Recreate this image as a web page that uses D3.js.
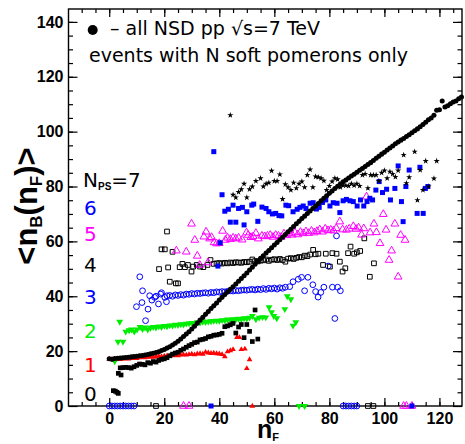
<!DOCTYPE html>
<html><head><meta charset="utf-8">
<script src="https://cdn.jsdelivr.net/npm/d3@7/dist/d3.min.js"></script>
<style>body{margin:0;background:#fff}svg{display:block}</style>
</head><body><svg id="c" width="465" height="444"></svg>
<script>
// ---------- data ----------
const allNSD = [[0,17.2],[1,17.0],[2,17.3],[3,17.4],[4,17.5],[5,17.6],[6,17.7],[7,17.8],[8,17.9],[9,18.0],[10,18.1],[11,18.3],[12,18.4],[13,18.6],[14,18.8],[15,19.0],[16,19.2],[17,19.5],[18,19.8],[19,20.2],[20,20.6],[21,21.1],[22,21.6],[23,22.2],[24,22.9],[25,23.6],[26,24.4],[27,25.3],[28,26.2],[29,27.1],[30,28.1],[31,29.1],[32,30.2],[33,31.3],[34,32.3],[35,33.4],[36,34.4],[37,35.5],[38,36.5],[39,37.5],[40,38.6],[41,39.6],[42,40.6],[43,41.6],[44,42.5],[45,43.5],[46,44.5],[47,45.5],[48,46.5],[49,47.5],[50,48.5],[51,49.6],[52,50.6],[53,51.7],[54,52.8],[55,53.8],[56,54.8],[57,55.8],[58,56.7],[59,57.7],[60,58.7],[61,59.6],[62,60.6],[63,61.5],[64,62.5],[65,63.5],[66,64.4],[67,65.4],[68,66.4],[69,67.3],[70,68.3],[71,69.2],[72,70.2],[73,71.1],[74,72.0],[75,72.9],[76,73.8],[77,74.8],[78,75.7],[79,76.6],[80,77.5],[81,78.4],[82,79.3],[83,80.1],[84,80.9],[85,81.7],[86,82.4],[87,83.1],[88,83.8],[89,84.5],[90,85.2],[91,85.9],[92,86.6],[93,87.3],[94,88.0],[95,88.7],[96,89.5],[97,90.3],[98,91.0],[99,91.8],[100,92.5],[101,93.3],[102,94.0],[103,94.8],[104,95.6],[105,96.2],[106,96.9],[107,97.5],[108,98.2],[109,98.9],[110,99.6],[111,100.3],[112,101.0],[113,101.8],[114,102.6],[115,103.4],[116,104.3],[117,105.0],[118,106.0],[119,107.8],[120,108.0],[121,111.2],[122,109.0],[123,109.4],[124,110.2],[125,110.8],[126,111.2],[127,112.0],[128,112.6]];

const nps7 = [[44,106],[45,77],[46,76],[47,78],[48,79],[49,81],[50,76],[51,79],[52,80],[53.3,82],[55,83],[56,80],[57,81],[58,81.4],[59,85.7],[60,82],[61,82],[62,84.4],[63,75.4],[64,80.8],[65,79.7],[66,78.7],[67,81.4],[68,79.4],[69,81],[70,81.8],[71,79.7],[72,84.2],[73,86.2],[74,79.7],[75,83.6],[76,83.4],[77,83],[78,82.1],[79,78.7],[80,80.2],[81,81.8],[82,83],[83,82.6],[84,79.7],[85,80.4],[86,80.4],[87,80.2],[88,81],[89,80.4],[90,81],[91,80.2],[92,84.2],[93,84.6],[94,79.4],[95,84.2],[96,84.2],[97,84.2],[98,82],[99,85],[100,85.8],[101,83],[102,85.4],[103,84.6],[104,83.5],[105,85.8],[107,91.5],[108,81.2],[109,83.4],[111,92.7],[112,75],[113,86],[114,78.7],[115,89.3],[116,80],[118,82.9],[119,89.3]];

const nps6 = [[38,92.7],[39.5,51],[40.3,59.5],[41,77],[42,71],[43.3,71.7],[44,67],[45,73.2],[46,67],[47,72],[48.4,72.4],[49,66],[50,70.8],[51.8,73.2],[52.5,73.6],[54,67.3],[55.5,72.5],[57,72],[58,70.8],[59.3,70],[60.5,70.2],[61.7,69.4],[62.7,69.3],[64.2,73.2],[65.2,73],[66.8,70.8],[68.3,71.7],[69.3,72.4],[70.5,72.9],[71.5,72],[73,73.9],[74.1,74.1],[75.3,71.8],[76.3,72.4],[77.5,74.2],[78.7,75.1],[80.2,72.9],[81.4,74.1],[82.8,73.9],[83.8,70.5],[85,74.8],[86.2,75.3],[87.5,74.8],[88.7,74.5],[90.1,72.9],[91.3,75.1],[92.5,72.9],[93.7,74.5],[94.7,75.7],[95.7,75.1],[96.9,78.7],[98.1,81.8],[99.3,77.8],[100.8,79],[102.2,75.1],[103.8,79.3],[105,87.5],[106.2,74.5],[106.8,67.2],[107.8,80],[109,86],[111.9,70.2],[112.9,87],[114.1,70.2],[114.9,79.3],[115.8,80],[37,0],[110,0]];

const nps5 = [[24.4,56.6],[28,56.2],[29.9,66.4],[31.1,60.5],[32,54.7],[32.9,51.4],[34.4,61.7],[35.2,63.5],[35.9,52.3],[36.5,61],[37.2,61.5],[38.1,59.6],[39,59.2],[40,59.3],[41.2,63.8],[42.2,60.5],[43,61.3],[44,60.8],[45,61.3],[46,61],[47,61.3],[48.3,60.6],[49.9,63.2],[50.5,62.3],[51.5,61.5],[52.3,61.8],[53.3,63],[54.2,61],[55.5,62],[56.5,61.8],[57.5,62],[58.5,62.3],[59.5,61.6],[60.5,62.3],[61.5,62],[62.5,61.6],[63.5,62.8],[64.5,62.2],[65.5,62.9],[66.5,62.4],[67.5,63.2],[68.5,62.5],[69.5,63.4],[70.5,62.9],[71.5,63.6],[72.5,63],[73.5,63.8],[74.5,63.2],[75.5,63.7],[76.5,64.3],[77.5,63.5],[78.5,64.6],[79.5,64],[80.5,64.2],[81.5,63.9],[82.5,64.8],[83.8,67.2],[84.8,64.3],[86.2,64.2],[87.2,64.6],[88.7,65.5],[89.7,64.5],[90.6,65],[91.7,62.4],[92.5,64.7],[93.5,76.3],[94.8,63.2],[96.2,66.4],[97.1,63.3],[98.4,59.3],[99.6,69.9],[100.6,64.2],[101.7,53.2],[102.6,56.6],[103.8,66.4],[105,47.1],[105.9,62.3],[107.5,60.5],[27,0],[29,0],[107,0],[108,0],[110,0]];

const nps4 = [[18.1,49.9],[19,57.1],[20.2,57.1],[21,63.6],[21.4,50.5],[22,45.3],[23,56.2],[24.2,44.7],[25,44.7],[25.6,50.6],[26.6,51.8],[27.5,50.6],[28.6,51.4],[29.9,49],[30.5,50.8],[31.8,51.4],[33,50.8],[34.2,50.6],[35.7,51.4],[36.8,53.2],[38,51.8],[39,52],[40,52.1],[41,51.9],[42,52.2],[43,52],[44,52.3],[45,52.1],[46,52.4],[47,52.3],[48,52.2],[49,52.5],[50,52.4],[51,52.6],[52,53.4],[53,52.8],[54,52.7],[55,53],[56,53.1],[57,53.4],[58,52.9],[59,53.3],[60,53.5],[61,53.2],[62,53.6],[63,53.2],[64,52.6],[65,53.7],[66,53.9],[67,53.6],[68,54],[69,54.3],[70,54.2],[71,54.8],[72,54.6],[73,55.2],[74.1,56.9],[75,55.3],[76,55.5],[77.7,51.4],[78.7,55.5],[80.2,50.8],[81.1,55.7],[82.6,55.5],[83.8,52.6],[84.8,49],[85.8,50.2],[86.8,55.7],[87.7,58.1],[89,55.5],[90,56],[91.2,56.5],[92.7,61.1],[94.7,47.1],[96.2,52],[17,0],[94,0],[96,0]];

const nps3 = [[9.9,36.2],[11.1,47.1],[11.9,37.7],[12.1,42],[13.2,31.1],[14.1,35.3],[14.7,40.2],[15.5,38.6],[16.5,39.6],[17,40],[17.9,37.2],[18.7,40.8],[19,41.3],[20.2,39.6],[20.8,38],[21,40.2],[22,40.3],[23,40],[24,40.5],[25,40.3],[26,40.6],[27,40.4],[28,40.8],[29,40.7],[30,41],[31,40.8],[32,41.1],[33,41],[34,41.2],[35,41.3],[36,41.1],[37,41.4],[38,41.3],[39,41.6],[40,41.5],[41,41.7],[42,41.6],[43,41.8],[44,42],[45,41.9],[46,42.1],[47,42],[48,42.2],[49,42.3],[50,42.2],[51,42.4],[52,42.5],[53,42.3],[54,42.6],[55,42.4],[56,42.8],[57,42.5],[58,42.9],[59,42.7],[60,43],[61,42.6],[62,43.1],[63,42.9],[64,43.3],[65.6,43.5],[66.8,45.3],[68.7,46.2],[69.9,46.9],[71,42],[72.2,46.9],[74,44.2],[75,41.7],[75.9,39.7],[76.9,41.4],[78,43.3],[79.6,51],[81.1,43.3],[82,31.9],[82.6,62],[83,43.3],[84,42],[0,0],[1,0],[2,0],[3,0],[4,0],[5,0],[6,0],[7,0],[8,0],[9,0],[85,0],[86,0],[87,0],[88,0],[89,0],[90,0]];

const nps2 = [[2,16.3],[3.2,23.4],[3.8,30.7],[5,23.4],[6,27.1],[7.2,27.6],[8.1,27.9],[9.1,27.1],[10.1,27.9],[11.2,28.8],[12.1,28],[13,28.6],[14,27.9],[15,28.5],[16,28.8],[17,28.6],[18,29],[19,28.8],[20,29.2],[21,29],[22,29.4],[23,29.3],[24,29.6],[25,29.5],[26,29.8],[27,29.7],[28,30],[29,30.1],[30,30.3],[31,30.2],[32,30.5],[33,30.4],[34,30.7],[35,30.6],[36,30.8],[37,30.9],[38,31],[39,31.1],[40,31],[41,31.3],[42,31.2],[43,31.5],[44,31.4],[45,31.6],[46,31.5],[47,31.8],[48,31.7],[49,32],[50,31.9],[51,32.2],[52,32.8],[53.3,31.6],[54.5,32.2],[55.7,32.4],[56.9,32.3],[58.1,36],[59,34.2],[59.8,32.8],[60.9,32],[63.8,35.3],[64.7,40],[66,38.9],[66.8,29.3],[67.8,30.5],[69,0],[71,0]];

const nps1 = [[0,17],[1,17],[2,16.9],[3,17.1],[4,17],[5,17.2],[6,17.3],[7,17.2],[8,17.4],[9,17.5],[10,17.4],[11,17.6],[12,17.7],[13,17.6],[14,17.8],[15,17.9],[16,17.8],[17,18],[18,18.1],[19,18],[20,18.2],[21,18.3],[22,18.2],[23,18.4],[24,18.5],[25,18.4],[26,18.6],[27,18.7],[28,18.6],[29,18.8],[30,18.9],[31,18.7],[32,19],[33,19.1],[34,18.9],[35,19.6],[36,19.4],[37,19.2],[38,19.3],[39,19.1],[40,19],[41,18.8],[42,18],[43,19.8],[44,20.2],[45,20.6],[46.4,25],[47.3,25],[48,20.6],[49.3,20.8],[50,13.7],[51,16.9],[52,0]];

const nps0 = [[1.5,5.6],[2.2,5.4],[2.8,5],[3.3,4.6],[3.3,11.9],[4.3,11.3],[4,13.9],[5,14],[6,14.1],[7,14],[8,13.8],[9,14.3],[10,14.8],[11,15.3],[12,15.2],[13,15],[14,15.8],[15,15.6],[16,16.2],[17,16],[18,16.6],[19,17],[20,17.2],[21,17.6],[22,18.3],[23,18.9],[24,19.3],[25,19.6],[26,20.3],[27,20.8],[28,21.4],[29,22],[30,22.5],[31,23.1],[32,23.3],[33,24.1],[34,24.3],[35,24.6],[36,25.2],[37,25.4],[38,25.8],[39,25.9],[40,26.1],[41,26.5],[42,28.9],[43,29.2],[44,29.6],[45,30.1],[46,26.6],[47,28.8],[48,29.7],[49,24.9],[50,29.7],[51,27.2],[52,23.5],[53,35],[54,24.4]];

const xTickLabels = [0,20,40,60,80,100,120];
const yTickLabels = [0,20,40,60,80,100,120,140];
const nLabels = ["7","6","5","4","3","2","1","0"];
const nLabelLevels = [80,69.6,60,49,37.3,24.8,12.4,1.8];

// ---------- layout ----------
const svg = d3.select("#c");
const x = d3.scaleLinear().domain([-14.8,128.2]).range([68.5,462]);
const y = d3.scaleLinear().domain([0,144.7]).range([406,9]);
const minorX = d3.range(-10,128,5), minorY = d3.range(5,145,5);
const TF = "'Liberation Sans', Arial, sans-serif";
const LF = "'DejaVu Sans', sans-serif";

function styleAxis(g){ g.select(".domain").remove(); g.selectAll("line").attr("stroke","#000").attr("stroke-width",1.2);
  g.selectAll("text").attr("font-family",TF).attr("font-weight","bold").attr("font-size",16).attr("fill","#000"); }

svg.append("g").attr("transform","translate(0,406)").call(d3.axisBottom(x).tickValues(minorX).tickSize(-4).tickFormat("")).call(styleAxis);
svg.append("g").attr("transform","translate(0,406)").call(d3.axisBottom(x).tickValues(xTickLabels).tickSize(-8).tickPadding(7).tickFormat(d3.format("d"))).call(styleAxis);
svg.append("g").attr("transform","translate(0,9)").call(d3.axisTop(x).tickValues(minorX).tickSize(-4).tickFormat("")).call(styleAxis);
svg.append("g").attr("transform","translate(0,9)").call(d3.axisTop(x).tickValues(xTickLabels).tickSize(-8).tickFormat("")).call(styleAxis);
svg.append("g").attr("transform","translate(68.5,0)").call(d3.axisLeft(y).tickValues(minorY).tickSize(-4.5).tickFormat("")).call(styleAxis);
svg.append("g").attr("transform","translate(68.5,0)").call(d3.axisLeft(y).tickValues(yTickLabels).tickSize(-9).tickPadding(5).tickFormat(d3.format("d"))).call(styleAxis);
svg.append("g").attr("transform","translate(462,0)").call(d3.axisRight(y).tickValues(minorY).tickSize(-4.5).tickFormat("")).call(styleAxis);
svg.append("g").attr("transform","translate(462,0)").call(d3.axisRight(y).tickValues(yTickLabels).tickSize(-9).tickFormat("")).call(styleAxis);

svg.append("rect").attr("x",68.5).attr("y",9).attr("width",462-68.5).attr("height",406-9)
  .attr("fill","none").attr("stroke","#000").attr("stroke-width",1.4);

// ---------- points ----------
function plot(data, type, size, fill, stroke, rot){
  const sym = d3.symbol().type(type).size(size);
  svg.append("g").selectAll("path").data(data).join("path")
    .attr("d", sym)
    .attr("transform", d=>`translate(${x(d[0])},${y(d[1])})` + (rot?` rotate(${rot})`:""))
    .attr("fill", fill).attr("stroke", stroke).attr("stroke-width", stroke==="none"?0:1);
}
plot(nps1, d3.symbolTriangle, 14, "#ff0000", "none");
plot(nps2, d3.symbolTriangle, 20, "#00ee00", "none", 180);
plot(nps3, d3.symbolCircle, 26, "none", "#0000ff");
plot(nps4, d3.symbolSquare, 22, "none", "#000");
plot(nps5, d3.symbolTriangle, 26, "none", "#ff00ff");
plot(nps6, d3.symbolSquare, 25, "#0000ff", "none");
plot(nps7, d3.symbolStar, 12, "#000", "none");
plot(nps0, d3.symbolSquare, 22, "#000", "none");
plot(allNSD, d3.symbolCircle, 20, "#000", "none");

// ---------- texts ----------
svg.append("circle").attr("cx",92.7).attr("cy",30).attr("r",5).attr("fill","#000");
svg.append("text").attr("x",110).attr("y",34.5).attr("font-family",LF).attr("font-size",19).attr("fill","#000")
  .text("\u2013 all NSD pp \u221As=7 TeV");
svg.append("text").attr("x",89).attr("y",61.7).attr("font-family",LF).attr("font-size",19).attr("fill","#000")
  .text("events with N soft pomerons only");

const nColors = ["#000","#0000ff","#ff00ff","#000","#0000ff","#00ee00","#ff0000","#000"];
nLabels.forEach((t,i)=>{
  const tx = svg.append("text").attr("x", i===0?83:84).attr("y", y(nLabelLevels[i]))
    .attr("font-family",LF).attr("font-size",20).attr("fill",nColors[i]);
  if(i===0){
    tx.append("tspan").text("N");
    tx.append("tspan").attr("dy",3).attr("font-size",10).attr("font-weight","bold").attr("font-family",TF).text("PS");
    tx.append("tspan").attr("dy",-3).text("="+t);
  } else tx.text(t);
});

// y label
const yl = svg.append("text").attr("transform","translate(37,206) rotate(-90)").attr("text-anchor","middle")
  .attr("font-family",TF).attr("font-weight","bold").attr("font-size",31).attr("fill","#000");
yl.append("tspan").text("<n");
yl.append("tspan").attr("font-size",17).attr("dy",5).text("B");
yl.append("tspan").attr("dy",-5).text("(n");
yl.append("tspan").attr("font-size",17).attr("dy",5).text("F");
yl.append("tspan").attr("dy",-5).text(")>");

// x label
const xl = svg.append("text").attr("x",257).attr("y",437.5).attr("font-family",TF).attr("font-weight","bold").attr("font-size",25).attr("fill","#000");
xl.append("tspan").text("n");
xl.append("tspan").attr("font-size",11).attr("dy",3).text("F");
</script></body></html>
